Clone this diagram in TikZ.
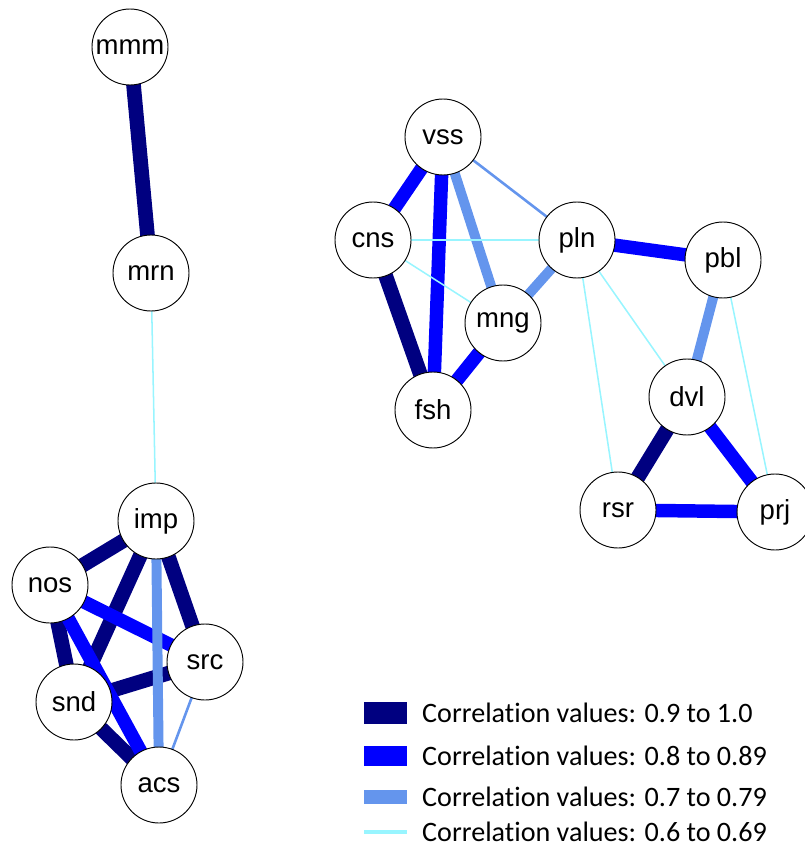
\documentclass[tikz,border=0pt]{standalone}
\usepackage{fontspec}
\setmainfont{Liberation Sans}
\newfontfamily\legendfont[Ligatures=NoCommon]{Carlito}
\usepackage{xcolor}
\usetikzlibrary{positioning}
\definecolor{corrnavy}{HTML}{000080}
\definecolor{corrblue}{HTML}{0000FF}
\definecolor{corrcorn}{HTML}{6495ED}
\definecolor{corrcyan}{HTML}{98F5FF}
\pgfdeclarelayer{background}
\pgfsetlayers{background,main}

\begin{document}
\begin{tikzpicture}[x=0.03cm,y=-0.03cm,
  var/.style={circle,draw=black,line width=0.8pt,fill=white,minimum size=2.28cm,inner sep=0pt,
    font=\fontsize{23.5}{27}\selectfont},
  corr9/.style={corrnavy,line width=12.5pt},
  corr8/.style={corrblue,line width=11.5pt},
  corr7/.style={corrcorn,line width=8.5pt},
  corr7thin/.style={corrcorn,line width=2.2pt},
  corr6/.style={corrcyan,line width=1.3pt},
  legendtext/.style={anchor=west,inner sep=0pt,font=\legendfont\fontsize{24}{28}\selectfont}]
\useasboundingbox (0,0) rectangle (804,847);
% left component
\node[var] (mmm) at (130,47) {mmm};
\node[var] (mrn) at (151,273) {mrn};
\node[var] (imp) at (156,521) {imp};
\node[var] (nos) at (50,585) {nos};
\node[var] (src) at (205,662) {src};
\node[var] (snd) at (74,702) {snd};
\node[var] (acs) at (159,785) {acs};
% right component
\node[var] (vss) at (443,137) {vss};
\node[var] (cns) at (373,240) {cns};
\node[var] (pln) at (577,240) {pln};
\node[var] (pbl) at (723,260) {pbl};
\node[var] (mng) at (503,323) {mng};
\node[var] (fsh) at (433,410) {fsh};
\node[var] (dvl) at (687,397) {dvl};
\node[var] (rsr) at (618,510) {rsr};
\node[var] (prj) at (775,512) {prj};
% edges, behind the circles
\begin{pgfonlayer}{background}
\foreach \a/\b in {mmm/mrn,imp/nos,imp/snd,imp/src,nos/snd,snd/src,snd/acs,cns/fsh,dvl/rsr}
  \draw[corr9] (\a.center) -- (\b.center);
\foreach \a/\b in {nos/src,nos/acs,vss/cns,vss/fsh,mng/fsh,pln/pbl,dvl/prj,rsr/prj}
  \draw[corr8] (\a.center) -- (\b.center);
\foreach \a/\b in {imp/acs,vss/mng,mng/pln,pbl/dvl}
  \draw[corr7] (\a.center) -- (\b.center);
\foreach \a/\b in {src/acs,vss/pln}
  \draw[corr7thin] (\a.center) -- (\b.center);
\foreach \a/\b in {mrn/imp,cns/pln,cns/mng,pln/rsr,pln/dvl,pbl/prj}
  \draw[corr6] (\a.center) -- (\b.center);
\end{pgfonlayer}
% legend
\foreach \i/\y/\w/\c/\t in {1/713/23/corrnavy/0.9 to 1.0,2/756/20/corrblue/0.8 to 0.89,
    3/797/14/corrcorn/0.7 to 0.79,4/832/5/corrcyan/0.6 to 0.69}{
  \draw[\c,line width=\w*0.85pt] (364,\y) -- (407,\y);
  \node[legendtext] (leg\i) at (422,\y) {Correlation values: \t};
}
\end{tikzpicture}
\end{document}
